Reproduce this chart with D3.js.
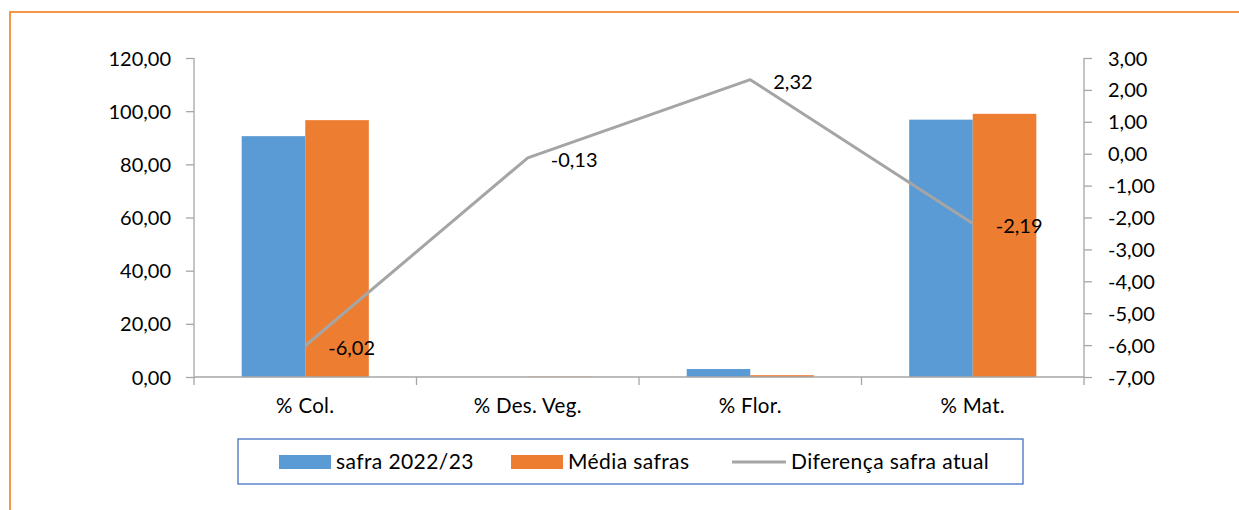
<!DOCTYPE html>
<html>
<head>
<meta charset="utf-8">
<script src="https://cdn.jsdelivr.net/npm/d3@7"></script>
<style>
  html, body { margin: 0; padding: 0; background: #fff; }
  svg { display: block; font-family: Lato, "Open Sans", sans-serif; }
</style>
</head>
<body>
<svg id="chart" width="1239" height="510"></svg>
<script>
// ---- data ----
const categories = ["% Col.", "% Des. Veg.", "% Flor.", "% Mat."];
const seriesNames = ["safra 2022/23", "Média safras", "Diferença safra atual"];
const safraAtual = [90.60, 0.00, 3.00, 96.81];
const mediaSafras = [96.62, 0.13, 0.68, 99.00];
const diferenca = [-6.02, -0.13, 2.32, -2.19];
const leftTicks = [0, 20, 40, 60, 80, 100, 120];
const rightTicks = [-7, -6, -5, -4, -3, -2, -1, 0, 1, 2, 3];

// ---- setup ----
const svg = d3.select("#chart");
const W = 1239, H = 510;
const colors = { blue: "#5B9BD5", orange: "#ED7D31", gray: "#A5A5A5", axis: "#A6A6A6", frame: "#F79646", legend: "#4472C4" };
const loc = d3.formatLocale({ decimal: ",", thousands: ".", grouping: [3], currency: ["R$", ""], minus: "-" });
const fmt = loc.format(".2f");

svg.append("rect").attr("width", W).attr("height", H).attr("fill", "#fff");
// orange frame
svg.append("rect").attr("x", 10).attr("y", 12).attr("width", W + 20).attr("height", H + 20)
  .attr("fill", "none").attr("stroke", colors.frame).attr("stroke-width", 2);

const plot = { left: 194, right: 1084, top: 58, bottom: 377 };

const x = d3.scaleBand().domain(categories).range([plot.left, plot.right]).paddingInner(0).paddingOuter(0);
const xs = d3.scaleBand().domain(["a", "b"]).range([0, x.bandwidth()]).paddingInner(0).paddingOuter(0.75);
const yL = d3.scaleLinear().domain([0, 120]).range([plot.bottom, plot.top]);
const yR = d3.scaleLinear().domain([-7, 3]).range([plot.bottom, plot.top]);

// ---- bars ----
const barData = categories.map((c, i) => [
  { c, k: "a", v: safraAtual[i], col: colors.blue },
  { c, k: "b", v: mediaSafras[i], col: colors.orange }
]).flat();
svg.append("g").selectAll("rect").data(barData).join("rect")
  .attr("x", d => x(d.c) + xs(d.k))
  .attr("width", xs.bandwidth())
  .attr("y", d => yL(d.v))
  .attr("height", d => yL(0) - yL(d.v))
  .attr("fill", d => d.col);

// ---- axes ----
const textStyle = sel => sel.attr("font-family", "Lato, 'Open Sans', sans-serif").attr("font-size", 20).attr("fill", "#000");

const gL = svg.append("g").attr("transform", `translate(${plot.left},0)`)
  .call(d3.axisLeft(yL).tickValues(leftTicks).tickFormat(fmt).tickSize(8).tickPadding(15));
const gR = svg.append("g").attr("transform", `translate(${plot.right},0)`)
  .call(d3.axisRight(yR).tickValues(rightTicks).tickFormat(fmt).tickSize(8).tickPadding(16));
[gL, gR].forEach(g => {
  g.select(".domain").attr("stroke", colors.axis).attr("stroke-width", 1.3).attr("d", `M0,${plot.top}V${plot.bottom}`);
  g.selectAll(".tick line").attr("stroke", colors.axis).attr("stroke-width", 1.3);
  g.selectAll(".tick text").call(textStyle).attr("dy", "0.35em");
});

// bottom axis
const gB = svg.append("g").attr("transform", `translate(0,${plot.bottom})`)
  .call(d3.axisBottom(x).tickSize(0).tickPadding(21));
gB.select(".domain").attr("stroke", colors.axis).attr("stroke-width", 1.3).attr("d", `M${plot.left},0H${plot.right}`);
gB.selectAll(".tick text").call(textStyle).attr("font-size", 20.5).attr("letter-spacing", 0.3);
const bounds = categories.map(c => x(c)).concat([x(categories[categories.length - 1]) + x.bandwidth()]);
gB.selectAll("line.bt").data(bounds).join("line").attr("class", "bt")
  .attr("x1", d => d).attr("x2", d => d).attr("y1", 0).attr("y2", 8)
  .attr("stroke", colors.axis).attr("stroke-width", 1.3);

// ---- line ----
const lineData = categories.map((c, i) => ({ c, v: diferenca[i] }));
const cx = d => x(d.c) + x.bandwidth() / 2;
svg.append("path").datum(lineData)
  .attr("d", d3.line().x(cx).y(d => yR(d.v)))
  .attr("fill", "none").attr("stroke", colors.gray).attr("stroke-width", 3).attr("stroke-linejoin", "round");

svg.append("g").selectAll("text").data(lineData).join("text")
  .attr("x", d => cx(d) + 23)
  .attr("y", d => yR(d.v) + 2)
  .attr("dy", "0.35em")
  .call(textStyle)
  .text(d => fmt(d.v));

// ---- legend ----
const lg = svg.append("g");
lg.append("rect").attr("x", 238).attr("y", 439).attr("width", 785).attr("height", 45)
  .attr("fill", "#fff").attr("stroke", colors.legend).attr("stroke-width", 1.3);
const legendItems = [
  { name: seriesNames[0], type: "rect", col: colors.blue, x: 279 },
  { name: seriesNames[1], type: "rect", col: colors.orange, x: 511 },
  { name: seriesNames[2], type: "line", col: colors.gray, x: 732 }
];
const ly = 462;
legendItems.forEach(it => {
  if (it.type === "rect") {
    lg.append("rect").attr("x", it.x).attr("y", ly - 7).attr("width", 52).attr("height", 14).attr("fill", it.col);
  } else {
    lg.append("line").attr("x1", it.x).attr("x2", it.x + 54).attr("y1", ly).attr("y2", ly)
      .attr("stroke", it.col).attr("stroke-width", 3);
  }
  lg.append("text").attr("x", it.x + (it.type === "rect" ? 57 : 59)).attr("y", ly).attr("dy", "0.35em")
    .call(textStyle).attr("font-size", 21).attr("letter-spacing", 0.4).text(it.name);
});
</script>
</body>
</html>
